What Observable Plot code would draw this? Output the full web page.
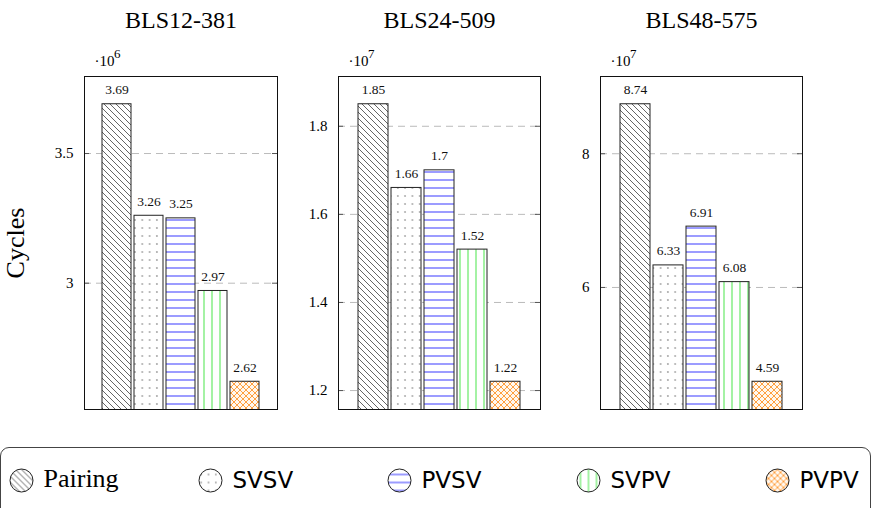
<!DOCTYPE html>
<html><head><meta charset="utf-8">
<script src="https://cdn.jsdelivr.net/npm/d3@7"></script>
<script src="https://cdn.jsdelivr.net/npm/@observablehq/plot@0.6"></script>
<style>
html,body{margin:0;padding:0;background:#fff;}
#root{position:relative;width:873px;height:508px;overflow:hidden;background:#fff;}
#legendbox{position:absolute;left:0;top:447px;width:871px;height:100px;border:1.3px solid #444;border-radius:9px;box-sizing:border-box;}
</style></head><body>
<svg width="0" height="0" style="position:absolute;left:0;top:0">
<defs>
<pattern id="pat-Pairing" patternUnits="userSpaceOnUse" width="6" height="6">
  <rect width="6" height="6" fill="#fff"/>
  <path d="M0,0L6,6M-1,5L1,7M5,-1L7,1" stroke="#555" stroke-width="0.9"/>
</pattern>
<pattern id="pat-SVSV" patternUnits="userSpaceOnUse" width="7.3" height="8">
  <rect width="7.3" height="8" fill="#fff"/>
  <circle cx="3.6" cy="4" r="1" fill="#aaa"/>
</pattern>
<pattern id="pat-PVSV" patternUnits="userSpaceOnUse" width="10" height="8">
  <rect width="10" height="8" fill="#fff"/>
  <line x1="0" x2="10" y1="4" y2="4" stroke="#7b7bff" stroke-width="1.5"/>
</pattern>
<pattern id="pat-SVPV" patternUnits="userSpaceOnUse" width="8" height="10">
  <rect width="8" height="10" fill="#fff"/>
  <line x1="4" x2="4" y1="0" y2="10" stroke="#86ee86" stroke-width="1.5"/>
</pattern>
<pattern id="pat-PVPV" patternUnits="userSpaceOnUse" width="6" height="6">
  <rect width="6" height="6" fill="#fff8f0"/>
  <path d="M0,0L6,6M-1,5L1,7M5,-1L7,1M0,6L6,0M-1,1L1,-1M5,7L7,5" stroke="#ffa040" stroke-width="1"/>
</pattern>
</defs>
</svg>
<div id="root"><div id="legendbox"></div></div>
<script>
const categories = ["Pairing", "SVSV", "PVSV", "SVPV", "PVPV"];
const curves = ["BLS12-381", "BLS24-509", "BLS48-575"];
const bls12_381 = [3.69, 3.26, 3.25, 2.97, 2.62];   // x 10^6 cycles
const bls24_509 = [1.85, 1.66, 1.70, 1.52, 1.22];   // x 10^7 cycles
const bls48_575 = [8.74, 6.33, 6.91, 6.08, 4.59];   // x 10^7 cycles
const exponents = [6, 7, 7];
const ticks12 = [3, 3.5];
const ticks24 = [1.2, 1.4, 1.6, 1.8];
const ticks48 = [6, 8];

const root = document.getElementById("root");
const W = 873;
const serif = "'Liberation Serif', 'DejaVu Serif', serif";

function panel(i, values, ticks, fl, fr) {
  const data = categories.map((c, j) => ({cat: c, v: values[j]}));
  const lo = d3.min(values), hi = d3.max(values), pad = (hi - lo) * 0.1;
  const fw = fr - fl;
  const marks = [
    Plot.gridY(ticks, {stroke: "#bbb", strokeOpacity: 1, strokeDasharray: "7,5"}),
    Plot.barY(data, {x: "cat", y: "v", fill: d => `url(#pat-${d.cat})`, stroke: "#222", strokeWidth: 1, clip: true}),
    Plot.tickY(ticks, {y: d => d, insetRight: fw - 5, stroke: "#555"}),
    Plot.tickY(ticks, {y: d => d, insetLeft: fw - 5, stroke: "#555"}),
    Plot.axisY(ticks, {tickSize: 0, tickPadding: 11, fontSize: 15, label: null, tickFormat: d => String(d), fill: "#000"}),
    Plot.text(data, {x: "cat", y: "v", text: d => String(d.v), lineAnchor: "bottom", dy: -10, fontSize: 13.5, fill: "#111"}),
    Plot.frame({stroke: "#111"}),
    Plot.text([curves[i]], {frameAnchor: "top", dy: -49, lineAnchor: "bottom", fontSize: 24, fill: "#000"}),
    Plot.text(["·10"], {frameAnchor: "top-left", dx: 10, dy: -11, lineAnchor: "bottom", textAnchor: "start", fontSize: 15, fill: "#000"}),
    Plot.text([String(exponents[i])], {frameAnchor: "top-left", dx: 29.5, dy: -19, lineAnchor: "bottom", textAnchor: "start", fontSize: 13, fill: "#000"})
  ];
  if (i === 0) {
    marks.push(Plot.text(["Cycles"], {frameAnchor: "left", dx: -60.5, rotate: -90, lineAnchor: "bottom", textAnchor: "middle", fontSize: 26, fill: "#000"}));
  }
  return Plot.plot({
    width: W, height: 430,
    marginLeft: fl, marginRight: W - fr, marginTop: 76, marginBottom: 21,
    style: {position: "absolute", left: "0px", top: "0px", background: "transparent", fontFamily: serif, overflow: "visible", maxWidth: "none"},
    x: {domain: categories, paddingInner: 0.1, paddingOuter: 0.53, axis: null},
    y: {domain: [lo - pad, hi + pad], axis: null},
    color: {type: "identity"},
    marks
  });
}

root.appendChild(panel(0, bls12_381, ticks12, 84, 277));
root.appendChild(panel(1, bls24_509, ticks24, 338, 540));
root.appendChild(panel(2, bls48_575, ticks48, 600, 802));

const legend = Plot.plot({
  width: W, height: 78,
  marginLeft: 0, marginRight: 0, marginTop: 22, marginBottom: 0,
  style: {position: "absolute", left: "0px", top: "430px", background: "transparent", overflow: "visible", maxWidth: "none"},
  x: {domain: categories, type: "point", range: [20, 777], padding: 0, axis: null},
  color: {type: "identity"},
  marks: [
    Plot.dot(categories, {x: d => d, r: 11.5, fill: d => `url(#pat-${d})`, stroke: "#222", strokeWidth: 1}),
    Plot.text(categories.filter(d => d === "Pairing"), {x: d => d, text: d => d, textAnchor: "start", dx: 22, dy: -2, fontSize: 26, fontFamily: serif, fill: "#000"}),
    Plot.text(categories.filter(d => d !== "Pairing"), {x: d => d, text: d => d, textAnchor: "start", dx: 22, fontSize: 23, fontFamily: "'DejaVu Sans', sans-serif", fill: "#000"})
  ]
});
root.appendChild(legend);
</script>
</body></html>
